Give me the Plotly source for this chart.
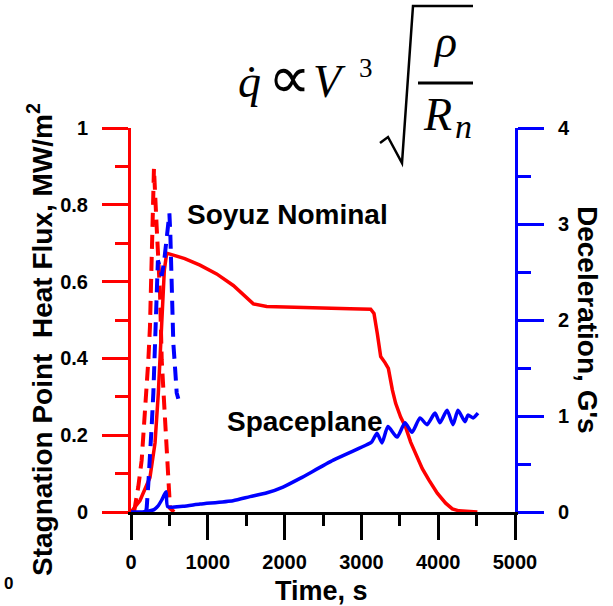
import plotly.graph_objects as go

# ---------------- data ----------------
# Spaceplane heat flux (MW/m^2), left axis
t_sp_q = [0, 117, 247, 313, 356, 400, 434, 465, 700, 898, 1115, 1332, 1506, 1593, 1767, 2201, 2852,
          3121, 3164, 3207, 3251, 3307, 3351, 3403, 3446, 3511, 3576, 3641, 3707, 3793, 3880, 3988,
          4097, 4184, 4271, 4510]
q_sp = [0.0, 0.03, 0.09, 0.18, 0.31, 0.48, 0.63, 0.674, 0.66, 0.643, 0.62, 0.59, 0.556, 0.542, 0.535,
        0.532, 0.529, 0.528, 0.517, 0.465, 0.405, 0.389, 0.374, 0.318, 0.283, 0.247, 0.221, 0.182,
        0.152, 0.113, 0.083, 0.049, 0.023, 0.008, 0.003, 0.0]

# Soyuz nominal heat flux (MW/m^2), left axis
t_sy_q = [40, 52, 95, 139, 169, 204, 226, 247, 269, 282, 291, 299, 334, 378, 400, 443, 486, 508, 560]
q_sy = [0.0, 0.014, 0.066, 0.135, 0.222, 0.309, 0.396, 0.483, 0.656, 0.786, 0.89, 0.895, 0.743, 0.57,
        0.396, 0.222, 0.066, 0.01, 0.0]

# Spaceplane deceleration (G), right axis
t_sp_g = [0, 150, 234, 300, 350, 400, 456, 478, 677, 898, 1328, 1549, 1771, 1979, 2201, 2634, 3069, 3134,
          3203, 3268, 3346, 3464, 3568, 3659, 3763, 3854, 3958, 4023, 4115, 4193, 4258, 4349, 4388, 4453, 4518]
g_sp = [0.0, 0.0, 0.01, 0.025, 0.06, 0.125, 0.21, 0.055, 0.06, 0.083, 0.118, 0.16, 0.2, 0.26, 0.35, 0.54,
        0.70, 0.73, 0.82, 0.72, 0.89, 0.78, 0.93, 0.83, 0.98, 0.91, 1.03, 0.93, 1.06, 0.91, 1.06, 0.94,
        1.01, 0.98, 1.03]

# Soyuz nominal deceleration (G), right axis
t_sy_g = [195, 204, 226, 247, 269, 291, 313, 334, 350, 378, 400, 430, 460, 485, 500, 512, 530, 551, 573, 595, 616]
g_sy = [0.0, 0.04, 0.30, 0.54, 0.89, 1.24, 1.76, 2.28, 2.62, 2.55, 2.46, 2.6, 2.85, 3.05, 3.11, 2.9, 2.28,
        1.76, 1.51, 1.24, 1.18]

RED = "#FF0000"
BLUE = "#0000FF"
SANS = "Liberation Sans, Arial, sans-serif"
SERIF = "Liberation Serif, Times New Roman, serif"

W, H = 613, 606
L, R, T, B = 131, 98, 128, 94
PW, PH = W - L - R, H - T - B


def px(x):
    return (x - L) / PW


def py(y):
    return (H - B - y) / PH


fig = go.Figure()
fig.add_trace(go.Scatter(x=t_sy_q, y=q_sy, mode="lines",
                         line=dict(color=RED, width=4, dash="14px,8px"), yaxis="y"))
fig.add_trace(go.Scatter(x=t_sp_q, y=q_sp, mode="lines",
                         line=dict(color=RED, width=3.5), yaxis="y"))
fig.add_trace(go.Scatter(x=t_sy_g, y=g_sy, mode="lines",
                         line=dict(color=BLUE, width=4, dash="14px,8px"), yaxis="y2"))
fig.add_trace(go.Scatter(x=t_sp_g, y=g_sp, mode="lines",
                         line=dict(color=BLUE, width=3.5, shape="spline", smoothing=0.6), yaxis="y2"))

tickfont = dict(family=SANS, size=20, color="black", weight="bold")

fig.update_layout(
    width=W, height=H, showlegend=False,
    paper_bgcolor="white", plot_bgcolor="white",
    margin=dict(l=L, r=R, t=T, b=B, pad=0),
    xaxis=dict(range=[0, 5000], showgrid=False, zeroline=False,
               showline=True, linecolor="black", linewidth=3,
               ticks="outside", ticklen=25, tickwidth=3, tickcolor="black",
               tick0=0, dtick=1000, tickfont=tickfont, ticklabelstandoff=5,
               minor=dict(dtick=500, ticks="outside", ticklen=11, tickwidth=3, tickcolor="black")),
    yaxis=dict(range=[0, 1], showgrid=False, zeroline=False,
               showline=True, linecolor=RED, linewidth=3,
               ticks="outside", ticklen=26, tickwidth=3, tickcolor=RED,
               tick0=0, dtick=0.2, tickfont=tickfont, ticklabelstandoff=10,
               minor=dict(dtick=0.1, ticks="outside", ticklen=13, tickwidth=3, tickcolor=RED)),
    yaxis2=dict(range=[0, 4], overlaying="y", side="right", showgrid=False, zeroline=False,
                showline=True, linecolor=BLUE, linewidth=3,
                ticks="outside", ticklen=26, tickwidth=3, tickcolor=BLUE,
                tick0=0, dtick=1, tickfont=tickfont, ticklabelstandoff=10,
                minor=dict(dtick=0.5, ticks="outside", ticklen=13, tickwidth=3, tickcolor=BLUE)),
)

title_font = dict(family=SANS, size=28, color="black", weight="bold")
ann = []
ann.append(dict(text="Stagnation Point\u00a0\u00a0Heat Flux, MW/m<sup>2</sup>", textangle=-90,
                x=px(40), y=py(340), xref="paper", yref="paper", showarrow=False,
                xanchor="center", yanchor="middle", font=title_font))
ann.append(dict(text="Deceleration, G's", textangle=90,
                x=px(588), y=py(320), xref="paper", yref="paper", showarrow=False,
                xanchor="center", yanchor="middle", font=title_font))
ann.append(dict(text="Time, s", x=px(321), y=py(591), xref="paper", yref="paper", showarrow=False,
                xanchor="center", yanchor="middle", font=dict(family=SANS, size=27, color="black", weight="bold")))
ann.append(dict(text="0", x=px(8), y=py(583), xref="paper", yref="paper", showarrow=False,
                xanchor="center", yanchor="middle", font=dict(family=SANS, size=17, color="black", weight="bold")))
ann.append(dict(text="Soyuz Nominal", x=px(185), y=py(214), xref="paper", yref="paper", showarrow=False,
                xanchor="left", yanchor="middle", font=title_font))
ann.append(dict(text="Spaceplane", x=px(225), y=py(421), xref="paper", yref="paper", showarrow=False,
                xanchor="left", yanchor="middle", font=title_font))

# formula  q-dot ∝ V^3 sqrt(rho / R_n)
mfont = dict(family=SERIF, size=46, color="black", style="italic")
ann.append(dict(text="q\u0307", x=px(249), y=py(81), xref="paper", yref="paper", showarrow=False,
                xanchor="center", yanchor="middle", font=mfont))
ann.append(dict(text="\u221d", x=px(289), y=py(78), xref="paper", yref="paper", showarrow=False,
                xanchor="center", yanchor="middle", font=dict(family=SERIF, size=60, color="black")))
ann.append(dict(text="V", x=px(329), y=py(81), xref="paper", yref="paper", showarrow=False,
                xanchor="center", yanchor="middle", font=mfont))
ann.append(dict(text="3", x=px(366), y=py(68), xref="paper", yref="paper", showarrow=False,
                xanchor="center", yanchor="middle", font=dict(family=SERIF, size=27, color="black")))
ann.append(dict(text="\u03c1", x=px(445), y=py(41), xref="paper", yref="paper", showarrow=False,
                xanchor="center", yanchor="middle", font=mfont))
ann.append(dict(text="R", x=px(437), y=py(114), xref="paper", yref="paper", showarrow=False,
                xanchor="center", yanchor="middle", font=mfont))
ann.append(dict(text="n", x=px(463), y=py(126), xref="paper", yref="paper", showarrow=False,
                xanchor="center", yanchor="middle", font=dict(family=SERIF, size=34, color="black", style="italic")))
fig.update_layout(annotations=ann)

rad = [(380, 143), (388, 137), (402, 163), (413, 6), (473, 6)]
path = "M " + " L ".join(f"{px(a):.5f},{py(b):.5f}" for a, b in rad)
fig.add_shape(type="path", path=path, xref="paper", yref="paper",
              line=dict(color="black", width=2.5))
fig.add_shape(type="line", x0=px(418), x1=px(473), y0=py(83), y1=py(83), xref="paper", yref="paper",
              line=dict(color="black", width=3))

fig.write_html("out.html")
